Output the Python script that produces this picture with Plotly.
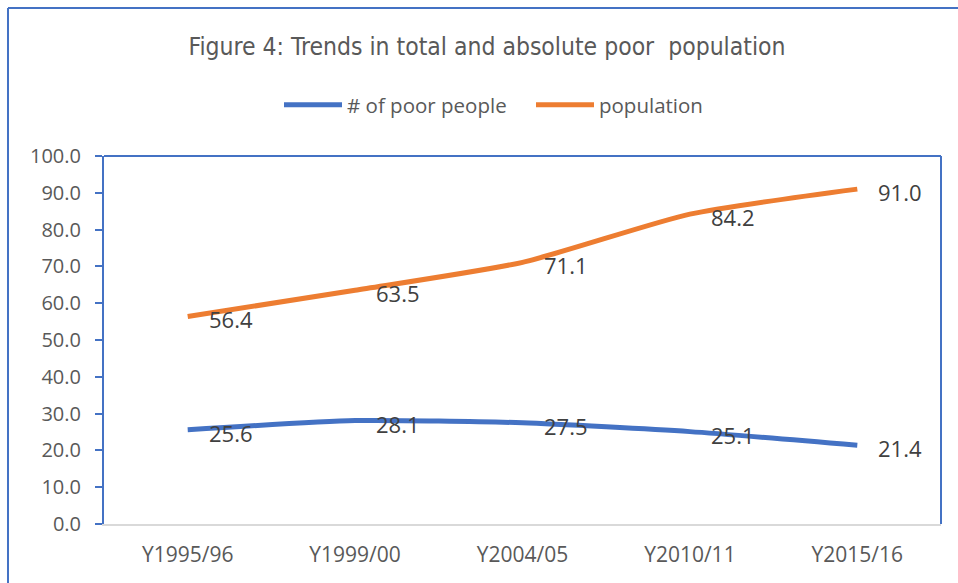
import plotly.graph_objects as go

categories = ["Y1995/96", "Y1999/00", "Y2004/05", "Y2010/11", "Y2015/16"]
poor_people = [25.6, 28.1, 27.5, 25.1, 21.4]
population = [56.4, 63.5, 71.1, 84.2, 91.0]
y_ticks = [0, 10, 20, 30, 40, 50, 60, 70, 80, 90, 100]

BLUE = "#4472C4"
ORANGE = "#ED7D31"
TXT = "#595959"
LBL = "#404040"
TICKFONT = "Open Sans, Liberation Sans, sans-serif"
NARROW = "Liberation Sans Narrow, DejaVu Sans Condensed, sans-serif"

fig = go.Figure()
fig.add_trace(go.Scatter(x=categories, y=poor_people, mode="lines", name="# of poor people",
                         line=dict(color=BLUE, width=5, shape="spline", smoothing=0.6)))
fig.add_trace(go.Scatter(x=categories, y=population, mode="lines", name="population",
                         line=dict(color=ORANGE, width=5, shape="spline", smoothing=0.6)))

annotations = []
for series in (poor_people, population):
    for c, v in zip(categories, series):
        annotations.append(dict(x=c, y=v, xref="x", yref="y", text=f"{v:.1f}",
                                showarrow=False, xanchor="left", yanchor="middle",
                                xshift=19, yshift=-3,
                                font=dict(family=TICKFONT, size=22, color=LBL)))

shapes = [
    dict(type="line", xref="paper", yref="paper", x0=0, x1=1, y0=1, y1=1,
         line=dict(color=BLUE, width=2)),
    dict(type="line", xref="paper", yref="paper", x0=1, x1=1, y0=0, y1=1,
         line=dict(color=BLUE, width=2)),
    dict(type="line", xref="paper", yref="paper", x0=-0.1147, x1=1.1, y0=1.402, y1=1.402,
         line=dict(color=BLUE, width=2)),
    dict(type="line", xref="paper", yref="paper", x0=-0.1147, x1=-0.1147, y0=-0.2, y1=1.402,
         line=dict(color=BLUE, width=2)),
]

fig.update_layout(
    width=958, height=583,
    margin=dict(l=104, r=17, t=156, b=59),
    paper_bgcolor="white", plot_bgcolor="white",
    title=dict(text="Figure 4: Trends in total and absolute poor  population",
               x=487 / 958, xanchor="center", y=1 - 46 / 583, yanchor="middle",
               font=dict(family=NARROW, size=24.5, color=TXT)),
    legend=dict(orientation="h", x=(279 - 104) / 837, xanchor="left",
                y=1 + (156 - 105) / 368, yanchor="middle",
                font=dict(family=TICKFONT, size=20.5, color=TXT), itemwidth=58,
                entrywidth=179, bgcolor="rgba(0,0,0,0)"),
    showlegend=True,
    xaxis=dict(type="category", range=[-0.5, 4.5], showgrid=False, showline=True,
               linecolor="#D9D9D9", linewidth=1.5, ticks="", zeroline=False,
               tickfont=dict(family=TICKFONT, size=21, color=TXT), ticklabelstandoff=11),
    yaxis=dict(range=[0, 100], tickvals=y_ticks, ticktext=[f"{t:.1f}" for t in y_ticks],
               showgrid=False, zeroline=False, showline=True, linecolor=BLUE, linewidth=2,
               ticks="outside", ticklen=7, tickcolor=BLUE, tickwidth=2, ticklabelstandoff=10,
               tickfont=dict(family=TICKFONT, size=20, color=TXT)),
    annotations=annotations,
    shapes=shapes,
)

fig.write_html("out.html")
